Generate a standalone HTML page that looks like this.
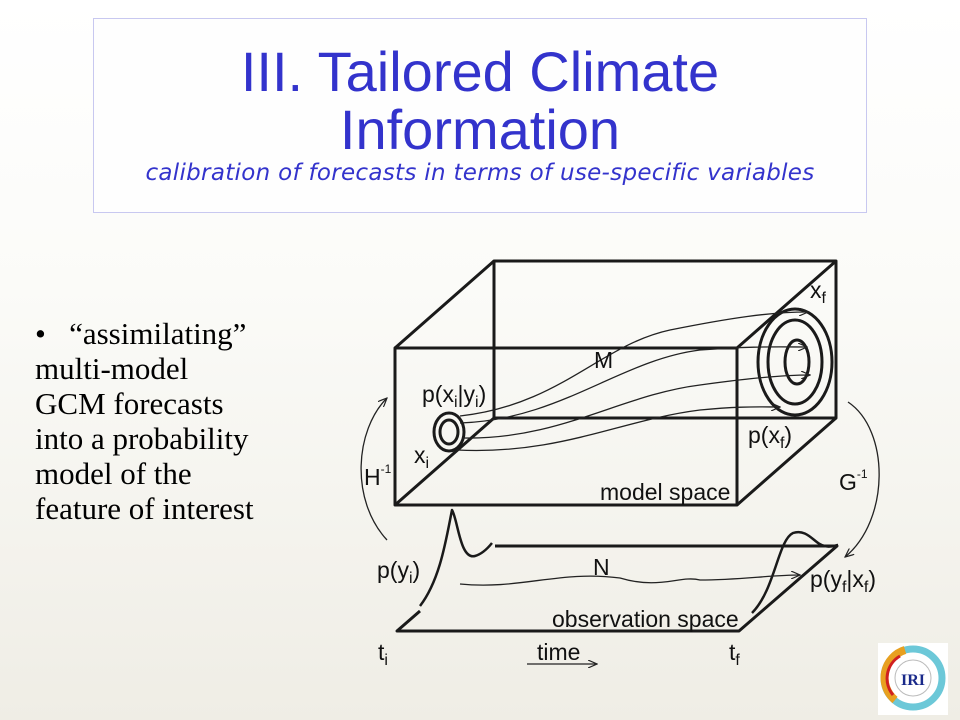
<!DOCTYPE html>
<html><head><meta charset="utf-8"><style>
html,body{margin:0;padding:0}
body{width:960px;height:720px;overflow:hidden;position:relative;background:linear-gradient(#ffffff 0%,#fbfbf8 40%,#efede5 100%);font-family:"Liberation Sans",sans-serif}
.tb{position:absolute;left:93px;top:18px;width:772px;height:193px;border:1px solid #c8c8f0;background:#fefefe}
.t{position:absolute;left:0;width:960px;text-align:center;color:#3333cc}
.lt{position:absolute;left:35px;top:316px;font-family:"Liberation Serif",serif;font-size:31px;line-height:35px;color:#000}
</style></head><body>
<div class="tb"></div>
<div class="t" style="top:43px;font-size:56px;line-height:58px">III. Tailored Climate<br>Information</div>
<div class="t" style="top:160px;font-size:23px;font-style:italic;font-family:'DejaVu Sans',sans-serif;letter-spacing:0.3px">calibration of forecasts in terms of use-specific variables</div>
<div class="lt">•&nbsp;&nbsp; “assimilating”<br>multi-model<br>GCM forecasts<br>into a probability<br>model of the<br>feature of interest</div>
<svg width="960" height="720" style="position:absolute;left:0;top:0" xmlns="http://www.w3.org/2000/svg">
<defs><marker id="a" markerWidth="10" markerHeight="8" refX="9" refY="4" orient="auto" markerUnits="userSpaceOnUse"><path d="M0,0 L9,4 L0,8" fill="none" stroke="#222" stroke-width="1.2"/></marker></defs>
<g fill="none" stroke="#1a1a1a" stroke-width="3" stroke-linejoin="round">
<rect x="395" y="348" width="342" height="157"/>
<path d="M494,261 H836 V418 H494 Z"/>
<path d="M395,348 L494,261 M737,348 L836,261 M737,505 L836,418 M395,505 L494,418"/>
<path d="M495,546 H837 L739,631 H397 L420,611"/>
<ellipse cx="449" cy="432" rx="15" ry="19"/>
<ellipse cx="449" cy="432" rx="9" ry="12"/>
<ellipse cx="795" cy="362" rx="37" ry="53"/>
<ellipse cx="795" cy="362" rx="27" ry="42"/>
<ellipse cx="797" cy="362" rx="12" ry="22"/>
<path d="M420,606 C440,580 446,540 452,510 C458,520 460,560 475,556 C482,554 488,548 492,543" stroke-width="2.5"/>
<path d="M752,613 C775,590 778,540 793,533 C808,528 815,545 825,546 C830,548 836,545 838,545" stroke-width="2.5"/>
</g>
<g fill="none" stroke="#222" stroke-width="1.3">
<path d="M460,416 C560,405 600,345 670,330 C730,318 770,312 808,312" marker-end="url(#a)"/>
<path d="M460,423 C560,420 620,360 700,350 C750,346 780,347 807,347" marker-end="url(#a)"/>
<path d="M463,438 C560,440 620,395 700,385 C750,378 785,375 810,375" marker-end="url(#a)"/>
<path d="M457,450 C560,455 620,420 700,410 C740,406 760,407 780,407" marker-end="url(#a)"/>
<path d="M460,584 C520,590 560,570 620,578 C660,590 680,575 700,580 C740,580 770,575 800,575" marker-end="url(#a)"/>
<path d="M387,540 C350,500 355,430 387,398" marker-end="url(#a)"/>
<path d="M848,402 C890,430 890,520 845,557" marker-end="url(#a)"/>
<path d="M527,664 H597" marker-end="url(#a)"/>
</g>
<g font-family="Liberation Sans,sans-serif" font-size="23" fill="#111">
<text x="810" y="298">x<tspan font-size="16" dy="5">f</tspan></text>
<text x="594" y="368">M</text>
<text x="422" y="402">p(x<tspan font-size="16" dy="5">i</tspan><tspan dy="-5">|y</tspan><tspan font-size="16" dy="5">i</tspan><tspan dy="-5">)</tspan></text>
<text x="414" y="463">x<tspan font-size="16" dy="5">i</tspan></text>
<text x="748" y="443">p(x<tspan font-size="16" dy="5">f</tspan><tspan dy="-5">)</tspan></text>
<text x="364" y="485">H<tspan font-size="12" dy="-12">-1</tspan></text>
<text x="839" y="490">G<tspan font-size="12" dy="-12">-1</tspan></text>
<text x="600" y="500">model space</text>
<text x="377" y="578">p(y<tspan font-size="16" dy="5">i</tspan><tspan dy="-5">)</tspan></text>
<text x="593" y="575">N</text>
<text x="810" y="587">p(y<tspan font-size="16" dy="5">f</tspan><tspan dy="-5">|x</tspan><tspan font-size="16" dy="5">f</tspan><tspan dy="-5">)</tspan></text>
<text x="552" y="627">observation space</text>
<text x="378" y="660">t<tspan font-size="16" dy="5">i</tspan></text>
<text x="537" y="660">time</text>
<text x="729" y="660">t<tspan font-size="16" dy="5">f</tspan></text>
</g>
<rect x="878" y="643" width="70" height="72" fill="#fff"/>
<circle cx="913" cy="678" r="29" fill="none" stroke="#6cc8d8" stroke-width="7"/>
<path d="M895,700 A29,29 0 0 1 905,650" fill="none" stroke="#e8a020" stroke-width="8"/>
<path d="M893,695 A26,26 0 0 1 900,656" fill="none" stroke="#d02020" stroke-width="3"/>
<circle cx="913" cy="678" r="18" fill="#fff" stroke="#bbb"/>
<text x="913" y="685" text-anchor="middle" font-family="Liberation Serif,serif" font-weight="bold" font-size="16" fill="#1a2a8a">IRI</text>
</svg>
</body></html>
